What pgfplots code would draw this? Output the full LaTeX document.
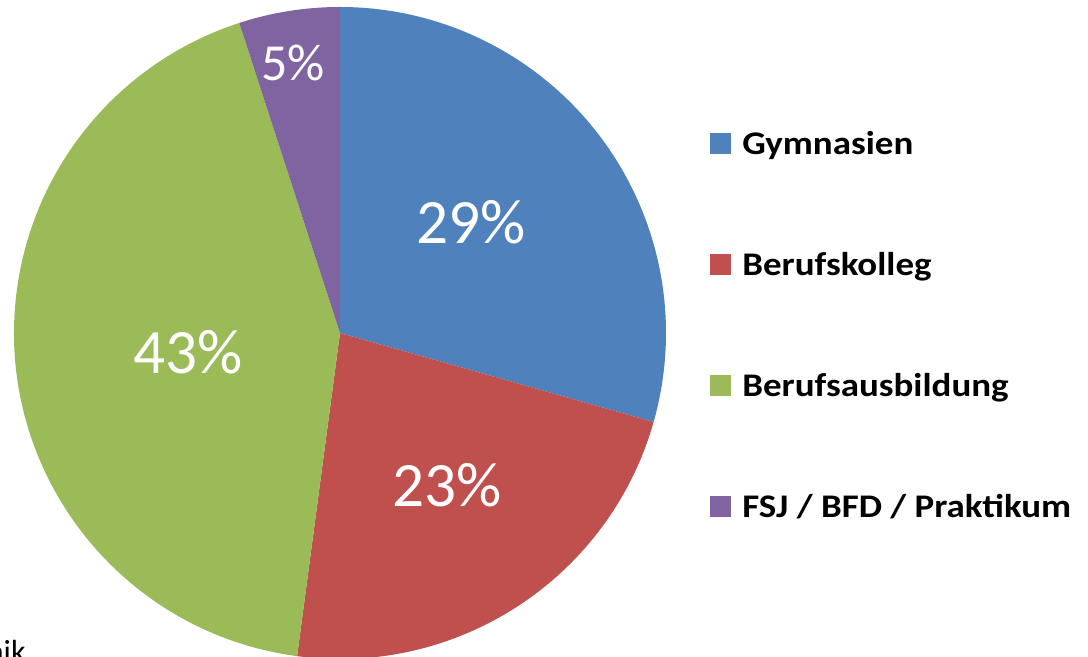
\documentclass[border=0pt]{standalone}
\usepackage{pgfplots}
\usepackage{pgfplotstable}
\pgfplotsset{compat=1.18}
\usepackage{fontspec}
\setmainfont{Carlito}
\definecolor{cA}{HTML}{4F81BD}
\definecolor{cB}{HTML}{C0504D}
\definecolor{cC}{HTML}{9BBB59}
\definecolor{cD}{HTML}{8064A2}
\pgfplotstableread{
pct
29.4
22.7
42.9
5.0
}\piedata
\pgfplotstablegetelem{0}{pct}\of\piedata\let\pA\pgfplotsretval
\pgfplotstablegetelem{1}{pct}\of\piedata\let\pB\pgfplotsretval
\pgfplotstablegetelem{2}{pct}\of\piedata\let\pC\pgfplotsretval
\pgfplotstablegetelem{3}{pct}\of\piedata\let\pD\pgfplotsretval
\pgfmathsetmacro{\aO}{90}
\pgfmathsetmacro{\aA}{\aO-3.6*\pA}
\pgfmathsetmacro{\aB}{\aA-3.6*\pB}
\pgfmathsetmacro{\aC}{\aB-3.6*\pC}
\pgfmathsetmacro{\aD}{\aC-3.6*\pD}
\newcommand{\leg}[1]{\scalebox{1.12}[1]{#1}}
\begin{document}
\begin{tikzpicture}
\begin{axis}[
  width=544pt, height=328.5pt, scale only axis,
  xmin=0, xmax=1088, ymin=0, ymax=657,
  hide axis, clip=false,
]
\path (axis cs:0,0) rectangle (axis cs:1088,657);
\useasboundingbox (axis cs:0,0) rectangle (axis cs:1088,657);
% slices (radius 326 px = 163 pt)
\fill[cA] (axis cs:340,324) -- ++(\aO:163pt) arc[start angle=\aO, end angle=\aA, radius=163pt] -- cycle;
\fill[cB] (axis cs:340,324) -- ++(\aA:163pt) arc[start angle=\aA, end angle=\aB, radius=163pt] -- cycle;
\fill[cC] (axis cs:340,324) -- ++(\aB:163pt) arc[start angle=\aB, end angle=\aC, radius=163pt] -- cycle;
\fill[cD] (axis cs:340,324) -- ++(\aC:163pt) arc[start angle=\aC, end angle=\aD, radius=163pt] -- cycle;
% labels
\node[text=white, font=\fontsize{31.6}{36}\selectfont] at (axis cs:471,435) {29\%};
\node[text=white, font=\fontsize{31.6}{36}\selectfont] at (axis cs:447,172) {23\%};
\node[text=white, font=\fontsize{31.6}{36}\selectfont] at (axis cs:188,305) {43\%};
\node[text=white, font=\fontsize{26}{30}\selectfont] at (axis cs:293,594) {5\%};
% legend
\fill[cA] (axis cs:710,503) rectangle (axis cs:731,524);
\fill[cB] (axis cs:710,382) rectangle (axis cs:731,403);
\fill[cC] (axis cs:710,261) rectangle (axis cs:731,282);
\fill[cD] (axis cs:710,140) rectangle (axis cs:731,161);
\node[anchor=base west, inner sep=0pt, font=\bfseries\fontsize{16.5}{19}\selectfont] at (axis cs:742,502) {\leg{Gymnasien}};
\node[anchor=base west, inner sep=0pt, font=\bfseries\fontsize{16.5}{19}\selectfont] at (axis cs:742,381) {\leg{Berufskolleg}};
\node[anchor=base west, inner sep=0pt, font=\bfseries\fontsize{16.5}{19}\selectfont] at (axis cs:742,260) {\leg{Berufsausbildung}};
\node[anchor=base west, inner sep=0pt, font=\bfseries\fontsize{16.5}{19}\selectfont] at (axis cs:742,139) {\leg{FSJ / BFD / Praktikum}};
% cut-off text at bottom left
\node[anchor=base east, inner sep=0pt, font=\fontsize{16}{19}\selectfont] at (axis cs:26,-6) {Technik};
\end{axis}
\end{tikzpicture}
\end{document}
